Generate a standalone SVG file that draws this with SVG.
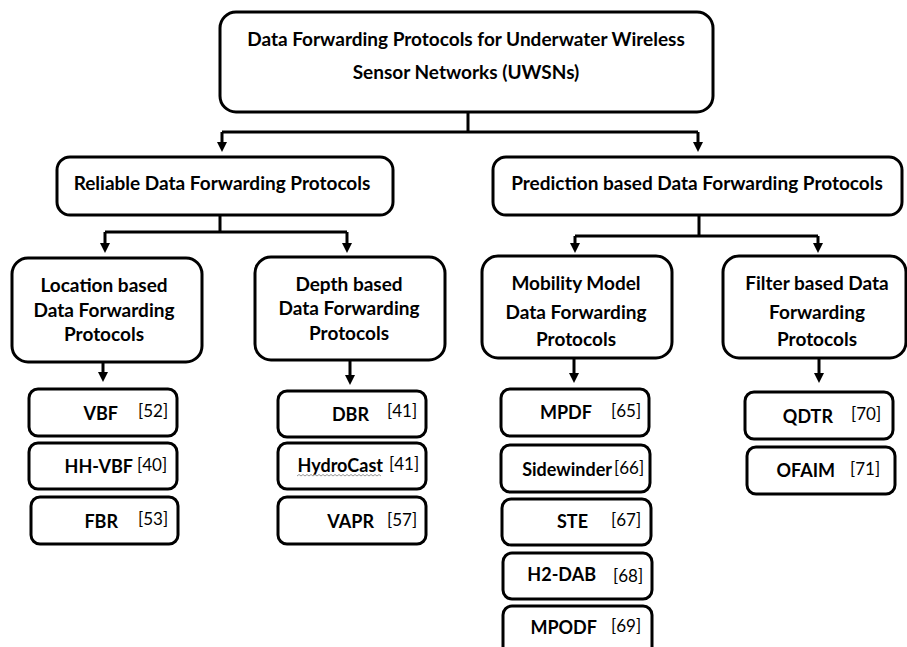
<svg xmlns="http://www.w3.org/2000/svg" width="907" height="647" viewBox="0 0 907 647">
  <style>
    .box { fill: #ffffff; stroke: #000000; stroke-width: 3; }
    .hdr { font-family: Lato, "Open Sans", "Liberation Sans", sans-serif; font-weight: bold; font-size: 19px; fill: #000000; text-anchor: middle; }
    .name { font-family: Lato, "Open Sans", "Liberation Sans", sans-serif; font-weight: bold; font-size: 18px; fill: #000000; text-anchor: end; }
    .ref { font-family: Lato, "Open Sans", "Liberation Sans", sans-serif; font-weight: normal; font-size: 17px; fill: #000000; }
    .wire { fill: none; stroke: #000000; stroke-width: 3; }
    .arrow { fill: none; stroke: #000000; stroke-width: 3; marker-end: url(#head); }
  </style>
  <defs>
    <marker id="head" viewBox="0 0 10 10" refX="4" refY="5" markerWidth="10" markerHeight="10" markerUnits="userSpaceOnUse" orient="auto">
      <path d="M0,0 L10,5 L0,10 z" fill="#000000"/>
    </marker>
  </defs>

  <rect width="907" height="647" fill="#ffffff"/>

  <!-- connectors -->
  <g id="connectors">
    <path class="wire" d="M468,112 V132 M222,132 H698"/>
    <path class="arrow" d="M222,132 V146"/>
    <path class="arrow" d="M698,132 V146"/>

    <path class="wire" d="M220,215 V232 M105,232 H347"/>
    <path class="arrow" d="M105,232 V247"/>
    <path class="arrow" d="M347,232 V247"/>

    <path class="wire" d="M699,215 V236 M575,236 H818"/>
    <path class="arrow" d="M575,236 V247"/>
    <path class="arrow" d="M818,236 V247"/>

    <path class="arrow" d="M103,362 V376"/>
    <path class="arrow" d="M350,360 V379"/>
    <path class="arrow" d="M574,358 V377"/>
    <path class="arrow" d="M819,358 V377"/>
  </g>

  <!-- root -->
  <g id="root">
    <rect class="box" x="220" y="12" width="493" height="100" rx="16"/>
    <text class="hdr" x="466" y="46">Data Forwarding Protocols for Underwater Wireless</text>
    <text class="hdr" x="466" y="79">Sensor Networks (UWSNs)</text>
  </g>

  <!-- second level -->
  <g id="reliable">
    <rect class="box" x="57" y="157" width="336" height="58" rx="13"/>
    <text class="hdr" x="222" y="190">Reliable Data Forwarding Protocols</text>
  </g>
  <g id="prediction">
    <rect class="box" x="493" y="157" width="409" height="58" rx="13"/>
    <text class="hdr" x="697" y="190">Prediction based Data Forwarding Protocols</text>
  </g>

  <!-- third level -->
  <g id="location">
    <rect class="box" x="12" y="258" width="190" height="104" rx="16"/>
    <text class="hdr" x="104" y="292">Location based</text>
    <text class="hdr" x="104" y="317">Data Forwarding</text>
    <text class="hdr" x="104" y="341">Protocols</text>
  </g>
  <g id="depth">
    <rect class="box" x="255" y="257" width="190" height="103" rx="16"/>
    <text class="hdr" x="349" y="291">Depth based</text>
    <text class="hdr" x="349" y="315">Data Forwarding</text>
    <text class="hdr" x="349" y="340">Protocols</text>
  </g>
  <g id="mobility">
    <rect class="box" x="482" y="256" width="190" height="102" rx="16"/>
    <text class="hdr" x="576" y="290">Mobility Model</text>
    <text class="hdr" x="576" y="319">Data Forwarding</text>
    <text class="hdr" x="576" y="346">Protocols</text>
  </g>
  <g id="filter">
    <rect class="box" x="723" y="256" width="183" height="102" rx="16"/>
    <text class="hdr" x="817" y="290">Filter based Data</text>
    <text class="hdr" x="817" y="319">Forwarding</text>
    <text class="hdr" x="817" y="346">Protocols</text>
  </g>

  <!-- location based leaves -->
  <g id="vbf">
    <rect class="box" x="29" y="389" width="148" height="47" rx="9"/>
    <text class="name" x="118" y="420">VBF</text>
    <text class="ref" x="138" y="417">[52]</text>
  </g>
  <g id="hh-vbf">
    <rect class="box" x="29" y="443" width="148" height="46" rx="9"/>
    <text class="name" x="133" y="473">HH-VBF</text>
    <text class="ref" x="137" y="471">[40]</text>
  </g>
  <g id="fbr">
    <rect class="box" x="31" y="497" width="147" height="47" rx="9"/>
    <text class="name" x="118" y="528">FBR</text>
    <text class="ref" x="138" y="525">[53]</text>
  </g>

  <!-- depth based leaves -->
  <g id="dbr">
    <rect class="box" x="278" y="391" width="148" height="46" rx="9"/>
    <text class="name" x="369" y="421">DBR</text>
    <text class="ref" x="387" y="417">[41]</text>
  </g>
  <g id="hydrocast">
    <rect class="box" x="278" y="443" width="148" height="46" rx="9"/>
    <text class="name" x="383" y="472">HydroCast</text>
    <path d="M297,476 l2,-1.5 l2,1.5 l2,-1.5 l2,1.5 l2,-1.5 l2,1.5 l2,-1.5 l2,1.5 l2,-1.5 l2,1.5 l2,-1.5 l2,1.5 l2,-1.5 l2,1.5 l2,-1.5 l2,1.5 l2,-1.5 l2,1.5 l2,-1.5 l2,1.5 l2,-1.5 l2,1.5 l2,-1.5 l2,1.5 l2,-1.5 l2,1.5 l2,-1.5 l2,1.5 l2,-1.5 l2,1.5 l2,-1.5 l2,1.5 l2,-1.5 l2,1.5 l2,-1.5 l2,1.5 l2,-1.5 l2,1.5 l2,-1.5 l2,1.5 l2,-1.5 l2,1.5" fill="none" stroke="#8a8a8a" stroke-width="0.9"/>
    <text class="ref" x="389" y="470">[41]</text>
  </g>
  <g id="vapr">
    <rect class="box" x="278" y="497" width="148" height="47" rx="9"/>
    <text class="name" x="374" y="528">VAPR</text>
    <text class="ref" x="387" y="526">[57]</text>
  </g>

  <!-- mobility model leaves -->
  <g id="mpdf">
    <rect class="box" x="501" y="389" width="148" height="47" rx="9"/>
    <text class="name" x="592" y="419">MPDF</text>
    <text class="ref" x="611" y="417">[65]</text>
  </g>
  <g id="sidewinder">
    <rect class="box" x="501" y="445" width="149" height="47" rx="9"/>
    <text class="name" x="612" y="476">Sidewinder</text>
    <text class="ref" x="614" y="474">[66]</text>
  </g>
  <g id="ste">
    <rect class="box" x="502" y="499" width="149" height="46" rx="9"/>
    <text class="name" x="588" y="528">STE</text>
    <text class="ref" x="611" y="526">[67]</text>
  </g>
  <g id="h2-dab">
    <rect class="box" x="503" y="553" width="149" height="46" rx="9"/>
    <text class="name" x="596" y="581">H2-DAB</text>
    <text class="ref" x="613" y="582">[68]</text>
  </g>
  <g id="mpodf">
    <rect class="box" x="503" y="606" width="149" height="60" rx="9"/>
    <text class="name" x="597" y="634">MPODF</text>
    <text class="ref" x="611" y="632">[69]</text>
  </g>

  <!-- filter based leaves -->
  <g id="qdtr">
    <rect class="box" x="745" y="392" width="148" height="47" rx="9"/>
    <text class="name" x="833" y="423">QDTR</text>
    <text class="ref" x="851" y="420">[70]</text>
  </g>
  <g id="ofaim">
    <rect class="box" x="747" y="447" width="148" height="47" rx="9"/>
    <text class="name" x="835" y="477">OFAIM</text>
    <text class="ref" x="850" y="475">[71]</text>
  </g>
</svg>
